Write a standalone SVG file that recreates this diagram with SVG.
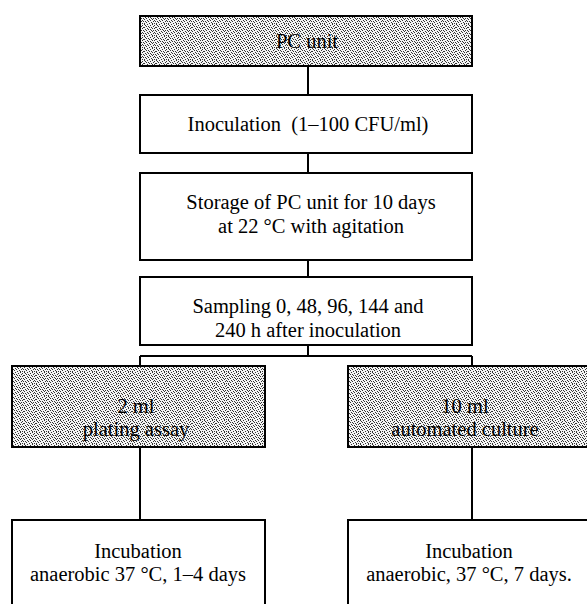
<svg xmlns="http://www.w3.org/2000/svg" width="587" height="604" viewBox="0 0 587 604">
<style>
.box{fill:#fff;stroke:#000;stroke-width:2}
.sh{fill:url(#stip);stroke:#000;stroke-width:2}
.t{font-family:"Liberation Serif","Times New Roman",serif;font-size:20.5px;fill:#000;text-anchor:middle}
.c{fill:none;stroke:#000;stroke-width:2}
</style>
<defs>
<pattern id="stip" width="12" height="12" patternUnits="userSpaceOnUse">
<rect width="12" height="12" fill="#f4f4f4"/>
<g fill="#333">
<rect x="0" y="0" width="1" height="1"/><rect x="3" y="0" width="1" height="1"/><rect x="8" y="0" width="1" height="1"/>
<rect x="1" y="1" width="1" height="1"/><rect x="6" y="1" width="1" height="1"/><rect x="10" y="1" width="1" height="1"/>
<rect x="2" y="2" width="1" height="1"/><rect x="4" y="2" width="1" height="1"/><rect x="9" y="2" width="1" height="1"/>
<rect x="0" y="3" width="1" height="1"/><rect x="5" y="3" width="1" height="1"/><rect x="7" y="3" width="1" height="1"/><rect x="11" y="3" width="1" height="1"/>
<rect x="3" y="4" width="1" height="1"/><rect x="8" y="4" width="1" height="1"/><rect x="10" y="4" width="1" height="1"/>
<rect x="1" y="5" width="1" height="1"/><rect x="4" y="5" width="1" height="1"/><rect x="6" y="5" width="1" height="1"/>
<rect x="2" y="6" width="1" height="1"/><rect x="7" y="6" width="1" height="1"/><rect x="9" y="6" width="1" height="1"/><rect x="11" y="6" width="1" height="1"/>
<rect x="0" y="7" width="1" height="1"/><rect x="5" y="7" width="1" height="1"/><rect x="8" y="7" width="1" height="1"/>
<rect x="3" y="8" width="1" height="1"/><rect x="6" y="8" width="1" height="1"/><rect x="10" y="8" width="1" height="1"/>
<rect x="1" y="9" width="1" height="1"/><rect x="4" y="9" width="1" height="1"/><rect x="9" y="9" width="1" height="1"/><rect x="11" y="9" width="1" height="1"/>
<rect x="2" y="10" width="1" height="1"/><rect x="7" y="10" width="1" height="1"/>
<rect x="0" y="11" width="1" height="1"/><rect x="5" y="11" width="1" height="1"/><rect x="8" y="11" width="1" height="1"/><rect x="10" y="11" width="1" height="1"/>
</g>
</pattern>
</defs>
<g id="connectors">
<path class="c" d="M308,66V95M308,153V173M308,260V277M308,345V356M140,356H472M140,356V366M472,356V366M140,447V520M472,447V520"/>
</g>
<g id="n-pc">
<rect class="sh" x="140" y="16" width="332" height="50"/>
<text class="t" x="307" y="48">PC unit</text>
</g>
<g id="n-inoc">
<rect class="box" x="140" y="95" width="332" height="58"/>
<text class="t" x="308" y="131" xml:space="preserve">Inoculation  (1–100 CFU/ml)</text>
</g>
<g id="n-storage">
<rect class="box" x="140" y="173" width="332" height="87"/>
<text class="t" x="311" y="209">Storage of PC unit for 10 days</text>
<text class="t" x="311" y="233">at 22 °C with agitation</text>
</g>
<g id="n-sampling">
<rect class="box" x="140" y="277" width="332" height="68"/>
<text class="t" x="308" y="313">Sampling 0, 48, 96, 144 and</text>
<text class="t" x="308" y="337">240 h after inoculation</text>
</g>
<g id="n-plating">
<rect class="sh" x="12" y="366" width="253" height="81"/>
<text class="t" x="136" y="413">2 ml</text>
<text class="t" x="136" y="436">plating assay</text>
</g>
<g id="n-automated">
<rect class="sh" x="348" y="366" width="250" height="81"/>
<text class="t" x="465" y="413">10 ml</text>
<text class="t" x="465" y="436">automated culture</text>
</g>
<g id="n-inc-left">
<path class="box" d="M12,606V520H265V606"/>
<text class="t" x="138" y="558">Incubation</text>
<text class="t" x="138" y="581">anaerobic 37 °C, 1–4 days</text>
</g>
<g id="n-inc-right">
<path class="box" d="M348,606V520H590"/>
<text class="t" x="469" y="558">Incubation</text>
<text class="t" x="469" y="581">anaerobic, 37 °C, 7 days.</text>
</g>
</svg>
